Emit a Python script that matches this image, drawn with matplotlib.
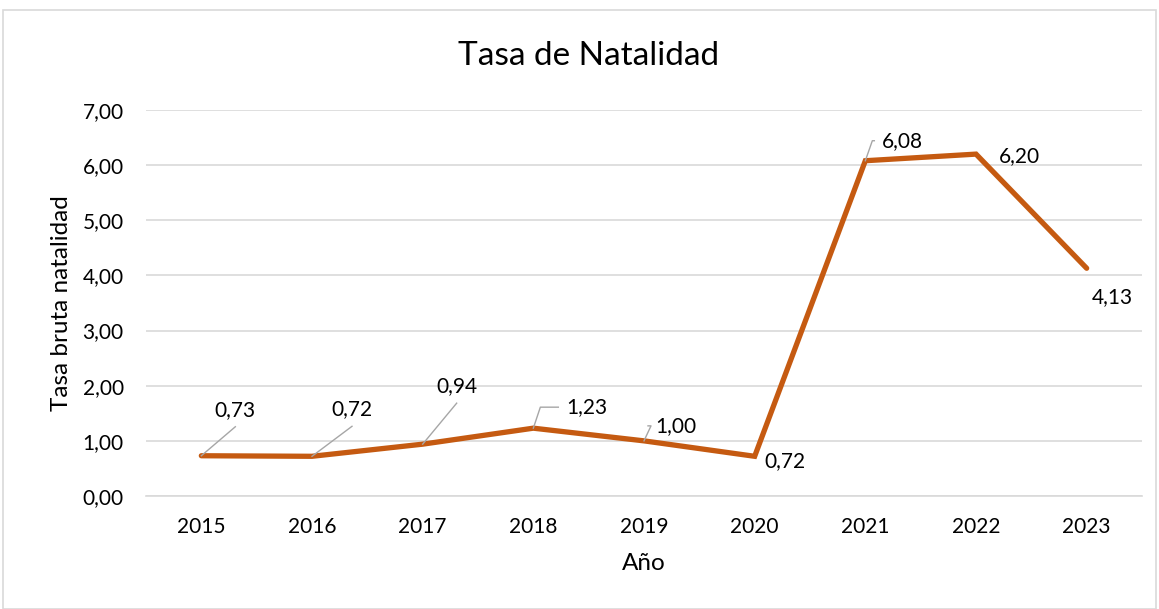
import matplotlib.pyplot as plt
from matplotlib.patches import Rectangle

# datos
YEARS = ["2015", "2016", "2017", "2018", "2019", "2020", "2021", "2022", "2023"]
RATES = [0.73, 0.72, 0.94, 1.23, 1.00, 0.72, 6.08, 6.20, 4.13]
RATE_LABELS = ["0,73", "0,72", "0,94", "1,23", "1,00", "0,72", "6,08", "6,20", "4,13"]

# desplazamiento de etiqueta (pixeles) y tipo de guia
LABEL_OFFSETS = [(34, 46), (40, 47), (34, 58), (53, 21), (32, 15), (30, -5), (37, 20), (43, -2), (26, -29)]
LEADERS = ["diag", "diag", "diag", "elbow", "elbow", None, "elbow", None, None]

ORANGE = "#C55A11"
GRID = "#D9D9D9"
TXT = "#000000"

plt.rcParams['font.family'] = ['Lato', 'DejaVu Sans']

fig = plt.figure(figsize=(11.59, 6.09), dpi=100)
W, H = 1159, 609
ax = fig.add_axes([146 / W, 1 - 496 / H, (1142 - 146) / W, (496 - 110) / H])

x = list(range(len(YEARS)))
ax.plot(x, RATES, color=ORANGE, linewidth=3.8, solid_capstyle="round",
        solid_joinstyle="miter", zorder=3)

ax.set_xlim(-0.5, len(YEARS) - 0.5)
ax.set_ylim(0, 7)
ax.set_yticks([0, 1, 2, 3, 4, 5, 6, 7])
ax.set_yticklabels([f"{v:.2f}".replace(".", ",") for v in range(8)])
ax.set_xticks(x)
ax.set_xticklabels(YEARS)
ax.tick_params(length=0, labelsize=15, colors=TXT)
ax.tick_params(axis="x", pad=15)
ax.tick_params(axis="y", pad=16)
ax.grid(axis="y", color=GRID, linewidth=1.2)
ax.set_axisbelow(True)
for s in ["top", "right", "left"]:
    ax.spines[s].set_visible(False)
ax.spines["bottom"].set_color(GRID)
ax.spines["bottom"].set_linewidth(1.2)

ax.set_xlabel("Año", fontsize=17.5, labelpad=12)
ax.set_ylabel("Tasa bruta natalidad", fontsize=17.5, labelpad=8)
fig.text(589 / W, 1 - 56 / H, "Tasa de Natalidad", ha="center", va="center", fontsize=24)

# etiquetas de datos con lineas guia
for i, (val, lab) in enumerate(zip(RATES, RATE_LABELS)):
    dx, dy = LABEL_OFFSETS[i]
    ax.annotate(lab, (i, val), xytext=(dx, dy), textcoords="offset pixels",
                ha="center", va="center", fontsize=15, color=TXT, zorder=5)
    px, py = ax.transData.transform((i, val))
    if LEADERS[i] == "diag":
        xs = [px, px + dx]
        ys = [py, py + dy - 17]
    elif LEADERS[i] == "elbow":
        xs = [px, px + 7, px + dx - 28]
        ys = [py, py + dy, py + dy]
    else:
        continue
    inv = ax.transData.inverted()
    pts = [inv.transform((a, b)) for a, b in zip(xs, ys)]
    ax.plot([p[0] for p in pts], [p[1] for p in pts], color="#A6A6A6",
            linewidth=1.0, zorder=4, clip_on=False)

# borde del grafico
fig.patches.append(Rectangle((3 / W, 0), (1156 - 3) / W, 1 - 10 / H, transform=fig.transFigure,
                             fill=False, edgecolor="#D9D9D9", linewidth=1.2))

fig.savefig("out.png", dpi=100)
